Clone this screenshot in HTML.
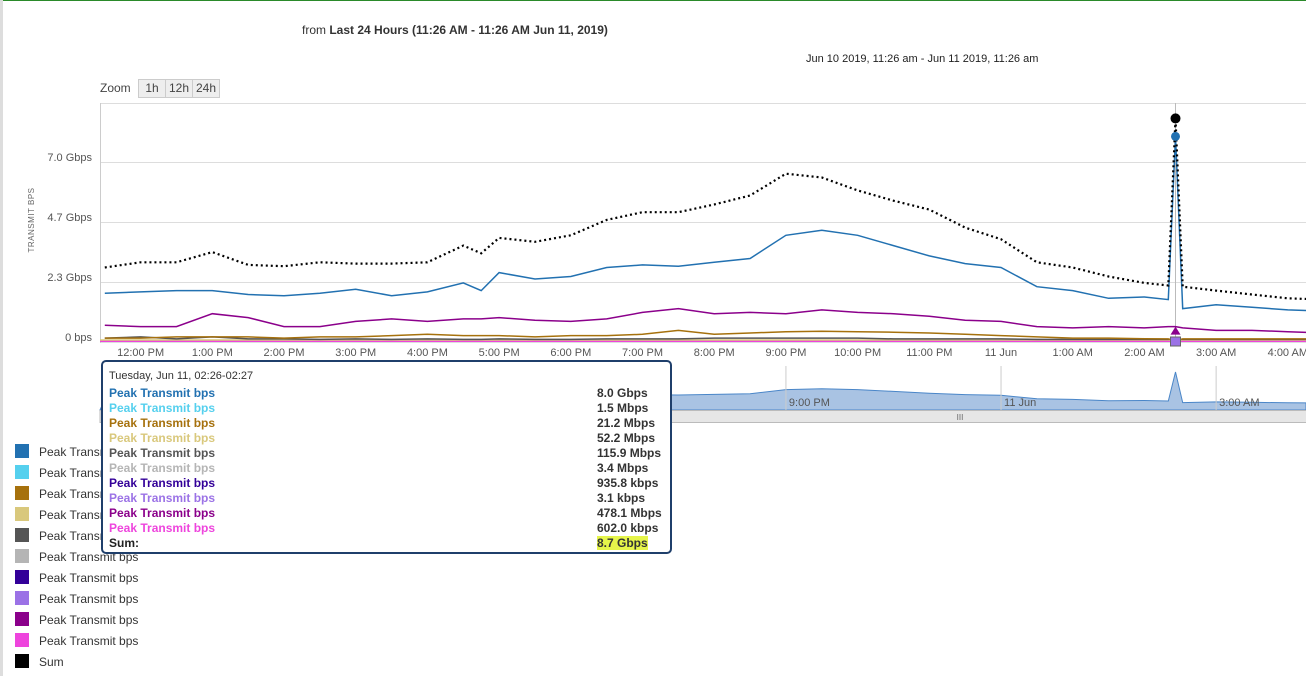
<!DOCTYPE html>
<html><head><meta charset="utf-8"><style>
body{margin:0;width:1306px;height:676px;overflow:hidden;background:#fff;font-family:"Liberation Sans",sans-serif;position:relative}
.abs{position:absolute}
.lg{position:absolute;left:15px;font-size:12px;color:#333;white-space:nowrap}
.lg i{display:inline-block;width:14px;height:14px;vertical-align:-2px;margin-right:10px}
#tip{position:absolute;left:101px;top:360px;width:567px;height:190px;border:2px solid #1f3f6b;border-radius:5px;background:#fff;font-size:12px}
.tr{position:absolute;left:6px;right:8px;height:15px;font-weight:bold}
.tr span{position:absolute;left:0}.tr b{position:absolute;left:488px;color:#333}
</style></head><body>
<div class="abs" style="left:0;top:0;width:1306px;height:1px;background:#2a8a2a"></div>
<div class="abs" style="left:0;top:0;width:3px;height:676px;background:#ddd"></div>
<div class="abs" style="left:302px;top:23px;font-size:12px;color:#333">from <b>Last 24 Hours (11:26 AM - 11:26 AM Jun 11, 2019)</b></div>
<div class="abs" style="left:806px;top:53px;font-size:11px;color:#222">Jun 10 2019, 11:26 am - Jun 11 2019, 11:26 am</div>
<div class="abs" style="left:100px;top:81px;font-size:12px;color:#444">Zoom</div>
<div class="abs" style="left:138px;top:79px;width:26px;height:17px;border:1px solid #ccc;background:#eee;font-size:12px;color:#444;text-align:center;line-height:17px">1h</div>
<div class="abs" style="left:165px;top:79px;width:26px;height:17px;border:1px solid #ccc;background:#eee;font-size:12px;color:#444;text-align:center;line-height:17px">12h</div>
<div class="abs" style="left:192px;top:79px;width:26px;height:17px;border:1px solid #ccc;background:#eee;font-size:12px;color:#444;text-align:center;line-height:17px">24h</div>
<svg id="ch" class="abs" style="left:0;top:0" width="1306" height="440"></svg>
<div id="legend"></div>
<div id="tip">
<div class="abs" style="left:6px;top:8px;font-size:11px;color:#333">Tuesday, Jun 11, 02:26-02:27</div>
<div id="tiprows"></div>
</div>
<script>
const times=[4,34,64,94,124,154,184,214,244,274,304,319,334,364,394,424,454,484,514,544,574,604,634,664,694,724,754,784,814,844,874,894,900,906,934,964,994,1024];
const blue=[1.9,1.95,2.0,2.0,1.85,1.8,1.9,2.05,1.8,1.95,2.3,2.0,2.7,2.45,2.55,2.9,3.0,2.95,3.1,3.25,4.15,4.35,4.15,3.75,3.35,3.05,2.9,2.15,2.0,1.7,1.75,1.65,8.0,1.3,1.45,1.35,1.25,1.2];
const sum=[2.9,3.1,3.1,3.5,3.0,2.95,3.1,3.05,3.05,3.1,3.75,3.45,4.05,3.9,4.15,4.75,5.05,5.05,5.35,5.7,6.55,6.4,5.9,5.5,5.15,4.45,4.0,3.1,2.9,2.55,2.3,2.2,8.7,2.15,2.0,1.85,1.7,1.65];
const purple=[0.65,0.6,0.6,1.1,0.95,0.6,0.6,0.8,0.9,0.8,0.9,0.9,0.95,0.85,0.8,0.9,1.15,1.3,1.1,1.15,1.1,1.25,1.15,1.1,1.0,0.85,0.8,0.6,0.55,0.6,0.55,0.6,0.6,0.55,0.45,0.45,0.4,0.35];
const brown=[0.15,0.15,0.2,0.2,0.2,0.15,0.2,0.2,0.25,0.3,0.25,0.25,0.25,0.2,0.25,0.25,0.3,0.45,0.3,0.35,0.4,0.42,0.4,0.38,0.35,0.3,0.25,0.2,0.15,0.15,0.13,0.12,0.05,0.12,0.12,0.12,0.12,0.12];
const gray=[0.15,0.2,0.12,0.2,0.12,0.12,0.1,0.12,0.1,0.12,0.1,0.1,0.12,0.1,0.1,0.12,0.12,0.12,0.15,0.15,0.15,0.15,0.15,0.12,0.12,0.12,0.12,0.1,0.1,0.1,0.1,0.1,0.12,0.1,0.1,0.1,0.1,0.1];
const yTicks=[0,2.33,4.67,7.0];
const yTickLabels=["0 bps","2.3 Gbps","4.7 Gbps","7.0 Gbps"];
const xTicks=[34,94,154,214,274,334,394,454,514,574,634,694,754,814,874,934,994];
const xTickLabels=["12:00 PM","1:00 PM","2:00 PM","3:00 PM","4:00 PM","5:00 PM","6:00 PM","7:00 PM","8:00 PM","9:00 PM","10:00 PM","11:00 PM","11 Jun","1:00 AM","2:00 AM","3:00 AM","4:00 AM"];
const navTicks=[574,754,934];
const navLabels=["9:00 PM","11 Jun","3:00 AM"];
const crossT=900;
const names=["Peak Transmit bps","Peak Transmit bps","Peak Transmit bps","Peak Transmit bps","Peak Transmit bps","Peak Transmit bps","Peak Transmit bps","Peak Transmit bps","Peak Transmit bps","Peak Transmit bps","Sum"];
const colors=["#2271b1","#55d0ee","#a6710d","#d9c87c","#555555","#b5b5b5","#330099","#9b72e6","#8b008b","#ee44dd","#000000"];
const tipVals=["8.0 Gbps","1.5 Mbps","21.2 Mbps","52.2 Mbps","115.9 Mbps","3.4 Mbps","935.8 kbps","3.1 kbps","478.1 Mbps","602.0 kbps"];

const X=t=>100+t*71.7/60, Y=v=>342-v*25.7, NY=v=>408.5-v*4.56;
const svg=document.getElementById('ch'),NS='http://www.w3.org/2000/svg';
function mk(tag,a,name,inter){const e=document.createElementNS(NS,tag);for(const k in a)e.setAttribute(k,a[k]);


svg.appendChild(e);return e;}
mk('line',{x1:100,x2:1306,y1:103.5,y2:103.5,stroke:'#ddd'},'gridline-top','false');
yTicks.forEach((v,i)=>{mk('line',{x1:100,x2:1306,y1:Math.round(Y(v))+.5,y2:Math.round(Y(v))+.5,stroke:'#ddd'},'gridline','false');
const t=mk('text',{x:92,y:Y(v)-1,'text-anchor':'end','font-size':11,fill:'#555'},'y-tick-label','false');t.textContent=yTickLabels[i];});
mk('line',{x1:100.5,x2:100.5,y1:103,y2:343,stroke:'#ccc'},'y-axis-line','false');
const yt=mk('text',{x:0,y:0,'font-size':8,fill:'#666','text-anchor':'middle',transform:'translate(34,220) rotate(-90)','letter-spacing':'0.5'},'y-axis-title','false');yt.textContent='TRANSMIT BPS';
xTicks.forEach((t,i)=>{const e=mk('text',{x:X(t),y:356,'text-anchor':'middle','font-size':11,fill:'#555'},'x-tick-label','false');e.textContent=xTickLabels[i];});
mk('line',{x1:X(crossT),x2:X(crossT),y1:103,y2:342,stroke:'#bbb'},'crosshair','false');
function path(arr){return arr.map((v,i)=>(i?'L':'M')+X(times[i]).toFixed(1)+','+Y(v).toFixed(1)).join('');}
mk('line',{x1:100,x2:1306,y1:341,y2:341,stroke:'#ee44dd','stroke-width':2},'series-magenta','false');
mk('line',{x1:100,x2:1306,y1:340,y2:340,stroke:'#d9c87c','stroke-width':1.5},'series-tan','false');
mk('path',{d:path(gray),fill:'none',stroke:'#555','stroke-width':1.5},'series-dark-gray','false');
mk('path',{d:path(brown),fill:'none',stroke:'#a6710d','stroke-width':1.5},'series-brown','false');
mk('path',{d:path(purple),fill:'none',stroke:'#8b008b','stroke-width':1.5},'series-purple','false');
mk('path',{d:path(blue),fill:'none',stroke:'#2271b1','stroke-width':1.5},'series-blue','false');
mk('path',{d:path(sum),fill:'none',stroke:'#000','stroke-width':2.2,'stroke-dasharray':'2 3'},'series-sum','false');
const ci=times.indexOf(crossT);
mk('circle',{cx:X(crossT),cy:Y(sum[ci]),r:5,fill:'#000'},'sum-marker','false');
mk('circle',{cx:X(crossT),cy:Y(blue[ci]),r:4.5,fill:'#2271b1'},'blue-marker','false');
mk('path',{d:`M${X(crossT)-5},${Y(purple[ci])+8}l5,-8l5,8z`,fill:'#8b008b'},'purple-marker','false');
mk('rect',{x:X(crossT)-5,y:337,width:10,height:9,fill:'#9b72e6',stroke:'#666'},'violet-marker','false');
// navigator (blue series)
mk('path',{d:'M100,410'+blue.map((v,i)=>'L'+X(times[i]).toFixed(1)+','+NY(v).toFixed(1)).join('')+'L1306,'+NY(blue[blue.length-1])+'L1306,410Z',fill:'#a9c3e3',stroke:'#4a86c8','stroke-width':1},'navigator-area','false');
navTicks.forEach((t,i)=>{mk('line',{x1:X(t),x2:X(t),y1:366,y2:410,stroke:'#ccc'},'navigator-tick','false');
const e=mk('text',{x:X(t)+3,y:406,'font-size':11,fill:'#555'},'navigator-label','false');e.textContent=navLabels[i];});
mk('rect',{x:100,y:410.5,width:1210,height:12,fill:'#e6e6e6',stroke:'#bbb'},'navigator-scrollbar','true');
const g=mk('text',{x:960,y:420,'font-size':8,fill:'#666','text-anchor':'middle'},'scrollbar-grip','true');g.textContent='III';
// legend
const lg=document.getElementById('legend');
names.forEach((n,i)=>{const d=document.createElement('div');d.className='lg';d.style.top=(444+i*21)+'px';
d.innerHTML=`<i style="background:${colors[i]}"></i>${n}`;


lg.appendChild(d);});
const tr=document.getElementById('tiprows');
tipVals.forEach((v,i)=>{const d=document.createElement('div');d.className='tr';d.style.top=(24+i*15)+'px';
d.innerHTML=`<span style="color:${colors[i]}">Peak Transmit bps</span><b>${v}</b>`;


tr.appendChild(d);});
const s=document.createElement('div');s.className='tr';s.style.top=(24+10*15)+'px';
s.innerHTML='<span style="color:#222">Sum:</span><b style="background:#e6f54a;color:#333">8.7 Gbps</b>';


tr.appendChild(s);
</script>
</body></html>
